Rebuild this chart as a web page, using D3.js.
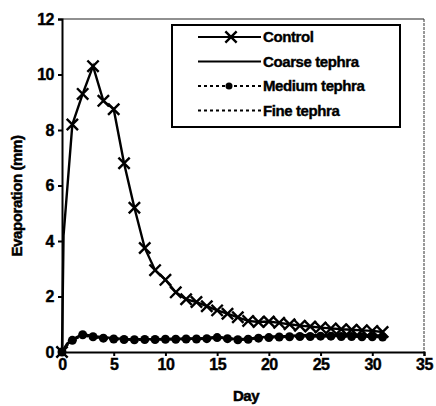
<!DOCTYPE html>
<html>
<head>
<meta charset="utf-8">
<script src="https://cdn.jsdelivr.net/npm/d3@7"></script>
<style>
body { margin: 0; background: #fff; }
text { font-family: "Liberation Sans", Arial, sans-serif; font-weight: bold; fill: #000; }
</style>
</head>
<body>
<div class="evap-plot"></div>
<script>
// data
const controlDays = [0, 0.15, 1, 2, 3, 4, 5, 6, 7, 8, 9, 10, 11, 12, 13, 14, 15, 16, 17, 18, 19, 20, 21, 22, 23, 24, 25, 26, 27, 28, 29, 30, 31];
const controlValues = [0, 4.2, 8.2, 9.3, 10.3, 9.05, 8.75, 6.8, 5.2, 3.75, 2.95, 2.6, 2.15, 1.9, 1.8, 1.65, 1.5, 1.38, 1.25, 1.12, 1.08, 1.1, 1.05, 1.0, 0.95, 0.92, 0.88, 0.85, 0.82, 0.8, 0.78, 0.76, 0.72];

const tephraDays = [0, 0.5, 1, 2, 3, 4, 5, 6, 7, 8, 9, 10, 11, 12, 13, 14, 15, 16, 17, 18, 19, 20, 21, 22, 23, 24, 25, 26, 27, 28, 29, 30, 31];
const coarseValues = [0, 0.3, 0.45, 0.65, 0.57, 0.53, 0.5, 0.47, 0.46, 0.46, 0.46, 0.47, 0.47, 0.48, 0.49, 0.5, 0.55, 0.5, 0.46, 0.48, 0.52, 0.55, 0.57, 0.58, 0.6, 0.6, 0.6, 0.61, 0.6, 0.6, 0.59, 0.6, 0.58];
const mediumValues = [0, 0.25, 0.42, 0.62, 0.55, 0.5, 0.47, 0.45, 0.44, 0.45, 0.45, 0.46, 0.46, 0.47, 0.47, 0.48, 0.52, 0.48, 0.44, 0.46, 0.5, 0.52, 0.54, 0.55, 0.56, 0.56, 0.57, 0.57, 0.56, 0.56, 0.55, 0.55, 0.54];
const fineValues = [0, 0.28, 0.44, 0.6, 0.54, 0.5, 0.48, 0.46, 0.45, 0.45, 0.46, 0.46, 0.47, 0.47, 0.48, 0.49, 0.53, 0.49, 0.45, 0.47, 0.5, 0.53, 0.55, 0.56, 0.57, 0.57, 0.58, 0.58, 0.57, 0.57, 0.56, 0.56, 0.55];

const xTicks = [0, 5, 10, 15, 20, 25, 30, 35];
const yTicks = [0, 2, 4, 6, 8, 10, 12];
const seriesNames = ['Control', 'Coarse tephra', 'Medium tephra', 'Fine tephra'];

const width = 436;
const height = 406;
const svg = d3.select('.evap-plot')
    .append('svg')
    .attr('width', width)
    .attr('height', height)

const x = d3.scaleLinear().domain([0, 35]).range([62, 424]);
const y = d3.scaleLinear().domain([0, 12]).range([352, 19]);

// frame top + right (thin)
svg.append('line').attr('x1', 62).attr('x2', 424).attr('y1', 19).attr('y2', 19)
    .attr('stroke', '#222').attr('stroke-width', 1.2);
svg.append('line').attr('x1', 424).attr('x2', 424).attr('y1', 19).attr('y2', 352)
    .attr('stroke', '#333').attr('stroke-width', 1).attr('stroke-dasharray', '3,1');

const xAxis = svg.append('g')
    .attr('transform', 'translate(0,352)')
    .call(d3.axisBottom(x).tickValues(xTicks).tickSize(4).tickPadding(3));
const yAxis = svg.append('g')
    .attr('transform', 'translate(62,0)')
    .call(d3.axisLeft(y).tickValues(yTicks).tickSize(4).tickPadding(4));

[xAxis, yAxis].forEach(g => {
    g.select('.domain').attr('stroke-width', 2);
    g.selectAll('.tick line').attr('stroke-width', 2);
    g.selectAll('.tick text')
        .attr('font-size', 16)
        .attr('font-family', '"Liberation Sans", Arial, sans-serif')
        .attr('font-weight', 'bold')
        .attr('stroke', '#000')
        .attr('stroke-width', 0.4)
        .attr('letter-spacing', -0.5);
});

svg.append('text')
    .text('Day')
    .attr('x', 246)
    .attr('y', 401)
    .attr('text-anchor', 'middle')
    .attr('font-size', 15)
    .attr('stroke', '#000')
    .attr('stroke-width', 0.5)
    .attr('letter-spacing', -0.5);

svg.append('text')
    .text('Evaporation (mm)')
    .attr('transform', 'translate(22,196) rotate(-90)')
    .attr('text-anchor', 'middle')
    .attr('font-size', 15)
    .attr('stroke', '#000')
    .attr('stroke-width', 0.5)
    .attr('letter-spacing', -0.4);

const line = d3.line().x(d => x(d[0])).y(d => y(d[1]));

const control = d3.zip(controlDays, controlValues);
const coarse = d3.zip(tephraDays, coarseValues);
const medium = d3.zip(tephraDays, mediumValues);
const fine = d3.zip(tephraDays, fineValues);

svg.append('path').datum(fine)
    .attr('d', line).attr('fill', 'none')
    .attr('stroke', '#000').attr('stroke-width', 2.5).attr('stroke-dasharray', '3,2');
svg.append('path').datum(coarse)
    .attr('d', line).attr('fill', 'none')
    .attr('stroke', '#000').attr('stroke-width', 2.5);
svg.append('path').datum(medium)
    .attr('d', line).attr('fill', 'none')
    .attr('stroke', '#000').attr('stroke-width', 2.5).attr('stroke-dasharray', '4,2');

svg.selectAll('.dot')
    .data(medium.filter(d => d[0] % 1 == 0))
    .enter()
    .append('circle')
    .attr('class', 'dot')
    .attr('cx', d => x(d[0]))
    .attr('cy', d => y(d[1]))
    .attr('r', 4.5)
    .attr('fill', '#000');

svg.append('path').datum(control)
    .attr('d', line).attr('fill', 'none')
    .attr('stroke', '#000').attr('stroke-width', 2.4);

const cross = d3.symbol().type(d3.symbolX).size(85);
svg.selectAll('.cross')
    .data(control.filter(d => d[0] % 1 == 0))
    .enter()
    .append('path')
    .attr('class', 'cross')
    .attr('d', cross)
    .attr('transform', d => 'translate(' + x(d[0]) + ',' + y(d[1]) + ')')
    .attr('fill', 'none')
    .attr('stroke', '#000')
    .attr('stroke-width', 2.4);

// legend
const legend = svg.append('g');
legend.append('rect')
    .attr('x', 172).attr('y', 25).attr('width', 228).attr('height', 102)
    .attr('fill', '#fff').attr('stroke', '#000').attr('stroke-width', 2);

const rows = legend.selectAll('.row')
    .data(seriesNames)
    .enter()
    .append('g')
    .attr('class', 'row')
    .attr('transform', (d, i) => 'translate(0,' + (37 + i * 24.5) + ')');

rows.append('line')
    .attr('x1', 198).attr('x2', 261).attr('y1', 0).attr('y2', 0)
    .attr('stroke', '#000')
    .attr('stroke-width', 2)
    .attr('stroke-dasharray', (d, i) => i < 2 ? null : '3,3');

rows.filter((d, i) => i == 0).append('path')
    .attr('d', cross)
    .attr('transform', 'translate(231,0)')
    .attr('fill', 'none').attr('stroke', '#000').attr('stroke-width', 2.4);
rows.filter((d, i) => i == 2).append('circle')
    .attr('cx', 229).attr('cy', 0).attr('r', 3.5).attr('fill', '#000');

rows.append('text')
    .text(d => d)
    .attr('x', 263)
    .attr('y', 5)
    .attr('font-size', 15)
    .attr('stroke', '#000')
    .attr('stroke-width', 0.4)
    .attr('letter-spacing', -0.4);
</script>
</body>
</html>
